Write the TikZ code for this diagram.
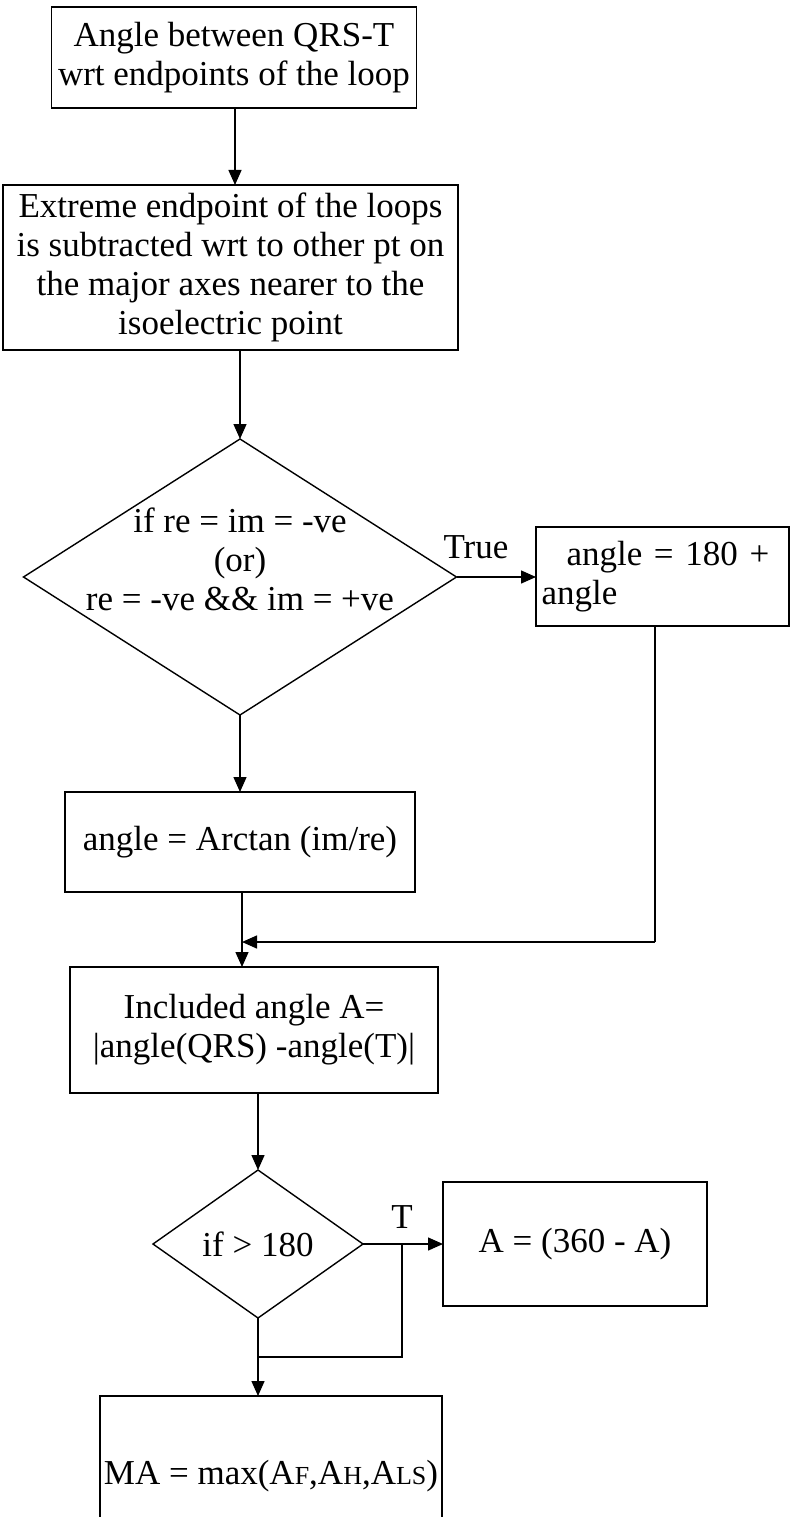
\documentclass[tikz,border=0pt]{standalone}
\usepackage{fontspec}
\setmainfont{Liberation Serif}
\usetikzlibrary{arrows.meta,shapes.geometric}
\newcommand\smcap[1]{{\fontsize{26}{26}\selectfont #1}}
\begin{document}
\begin{tikzpicture}[x=1pt,y=-1pt,
  every node/.style={font=\fontsize{35}{39}\selectfont, inner sep=0pt, outer sep=0pt},
  box/.style={draw, line width=1.4pt, align=center},
  dec/.style={draw, shape=diamond, line width=1.4pt},
  arr/.style={line width=1.4pt, -{Triangle[length=15pt,width=13pt]}},
  ln/.style={line width=1.4pt}]
\useasboundingbox (0,0) rectangle (791,1517);
\fill[white] (0,0) rectangle (791,1517);
% boxes
\node[box, minimum width=365pt, minimum height=101pt] (b1) at (234,57.5) {Angle between QRS-T\\wrt endpoints of the loop};
\node[box, minimum width=455pt, minimum height=165pt] (b2) at (230.5,267.5) {Extreme endpoint of the loops\\is subtracted wrt to other pt on\\the major axes nearer to the\\isoelectric point};
\node[dec, minimum width=433pt, minimum height=276pt] (d1) at (240,577) {};
\node[align=center] (d1t) at (240,559) {if re = im = -ve\\(or)\\re = -ve \&\& im = +ve};
\node (tl) at (476,547) {True};
\node[box, minimum width=253pt, minimum height=99pt, text width=242pt, align=left] (b3) at (662.5,576.5) {\hspace*{25pt}angle = 180 +\\angle};
\node[box, minimum width=350pt, minimum height=100pt] (b4) at (240,842) {angle = Arctan (im/re)};
\node[box, minimum width=368pt, minimum height=126pt] (b5) at (254,1030) {Included angle A=\\|angle(QRS) -angle(T)|};
\node[dec, minimum width=210pt, minimum height=148pt] (d2) at (258,1244) {if > 180};
\node[box, minimum width=264pt, minimum height=124pt] (b6) at (575,1244) {A = (360 - A)};
\node (tt) at (402,1217) {T};
\node[box, minimum width=342pt, minimum height=160pt] (b7) at (271,1476) {MA = max(A\smcap{F},A\smcap{H},A\smcap{LS})};
% helper coordinates
\coordinate (a1) at (235,0);
\coordinate (c3) at (655,942);
\coordinate (mj) at (242,942);
\coordinate (j2) at (402,1244);
\coordinate (j3) at (402,1357);
% connectors
\draw[arr] (b1.south -| a1) -- (b2.north -| a1);
\draw[arr] (b2.south -| d1.north) -- (d1.north);
\draw[arr] (d1.east) -- (b3.west |- d1.east);
\draw[ln] (b3.south -| c3) -- (c3);
\draw[arr] (c3) -- (mj);
\draw[arr] (d1.south) -- (b4.north -| d1.south);
\draw[arr] (b4.south -| mj) -- (b5.north -| mj);
\draw[arr] (b5.south -| d2.north) -- (d2.north);
\draw[arr] (d2.east) -- (b6.west);
\draw[ln] (j2) -- (j3) -- (j3 -| d2.south);
\draw[arr] (d2.south) -- (b7.north -| d2.south);
\end{tikzpicture}
\end{document}
